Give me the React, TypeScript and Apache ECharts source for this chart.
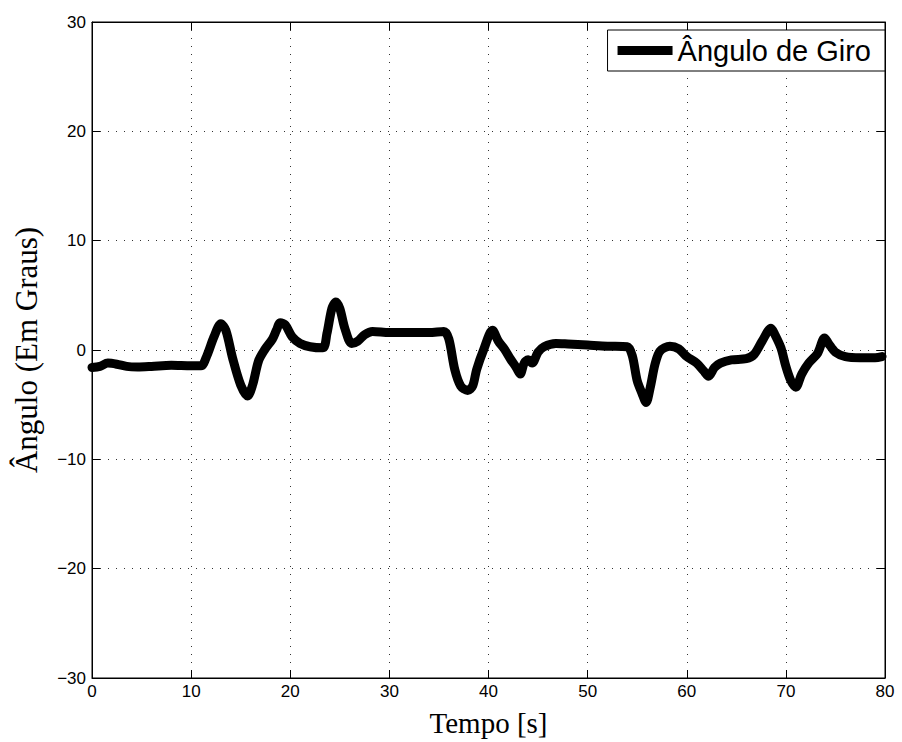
import React, { useEffect, useRef } from "react";
import * as echarts from "echarts";

const seriesName = "Ângulo de Giro";
const xTitle = "Tempo [s]";
const yTitle = "Ângulo (Em Graus)";

const timeValues = [
  0, 0.8, 1.6, 2.5, 3.5, 4.6, 6, 8, 10, 11, 11.6, 12.3, 13, 13.5, 14.2, 15, 15.7, 16.2, 16.8, 17.4,
  18.2, 18.6, 19, 19.5, 20.2, 21, 22, 23.3, 23.7, 24.2, 24.6, 25, 25.5, 26.2, 26.8, 27.5, 28.3, 30,
  32, 34, 35.5, 36, 36.6, 37.2, 37.9, 38.4, 38.8, 39.5, 40.4, 41, 41.6, 42.2, 42.8, 43.2, 43.6, 44,
  44.4, 45, 45.6, 46.8, 48, 50, 52, 54, 54.5, 55, 55.5, 55.9, 56.3, 56.8, 57.3, 58.3, 59.2, 60, 61,
  61.7, 62.2, 62.8, 63.4, 64.5, 66, 66.8, 67.6, 68.5, 68.9, 69.5, 70, 70.5, 71, 71.6, 72.3, 73.2,
  73.9, 74.3, 75, 76, 77.5, 79, 79.7,
];

const angleValues = [
  -1.6, -1.5, -1.2, -1.3, -1.5, -1.55, -1.5, -1.4, -1.45, -1.45, -0.5, 1.2, 2.4, 1.8, -0.8, -3.2,
  -4.2, -3.2, -1.0, 0, 1.0, 1.8, 2.5, 2.3, 1.2, 0.6, 0.3, 0.2, 1.5, 3.8, 4.4, 3.8, 2.0, 0.6, 0.8,
  1.4, 1.7, 1.6, 1.6, 1.6, 1.7, 1.0, -1.8, -3.3, -3.7, -3.3, -1.8, 0, 1.8, 0.8, 0.1, -0.8, -1.6,
  -2.2, -1.2, -0.9, -1.2, -0.2, 0.3, 0.6, 0.55, 0.45, 0.35, 0.3, -0.5, -2.8, -4.0, -4.8, -3.5, -1.3,
  -0.1, 0.35, 0.1, -0.6, -1.2, -1.9, -2.4, -1.6, -1.2, -0.9, -0.8, -0.4, 0.8, 2.0, 1.4, 0.2, -1.5,
  -2.8, -3.4, -2.2, -1.2, -0.3, 1.1, 0.6, -0.2, -0.6, -0.7, -0.7, -0.6,
];

const xMin = 0;
const xMax = 80;
const xStep = 10;
const yMin = -30;
const yMax = 30;
const yStep = 10;

const fmt = (v: number) => String(v).replace("-", "\u2212");

export default function App() {
  const ref = useRef<HTMLDivElement>(null);
  useEffect(() => {
    if (!ref.current) return;
    const chart = echarts.init(ref.current, undefined, { renderer: "svg" });
    const data = timeValues.map((t, i) => [t, angleValues[i]]);
    const tickFont = { fontFamily: "Liberation Sans, Arial, sans-serif", fontSize: 17, color: "#000" };
    const axisCommon = {
      axisLine: { show: true, onZero: false, lineStyle: { color: "#000", width: 1 } },
      axisTick: { show: true, inside: true, length: 8, lineStyle: { color: "#000" } },
    };
    const gridLine = { show: true, lineStyle: { color: "#333", width: 1, type: [1, 7] } };
    chart.setOption({
      animation: false,
      backgroundColor: "#fff",
      grid: { left: 92, right: 17, top: 22, bottom: 64, show: true, borderColor: "#000", borderWidth: 1, backgroundColor: "#fff" },
      legend: {
        data: [seriesName],
        right: 17,
        top: 30,
        icon: "rect",
        itemWidth: 55,
        itemHeight: 9,
        padding: [6, 14, 6, 10],
        borderColor: "#000",
        borderWidth: 1,
        borderRadius: 0,
        backgroundColor: "#fff",
        textStyle: { fontFamily: "Liberation Sans, Arial, sans-serif", fontSize: 29, color: "#000" },
      },
      xAxis: [
        {
          type: "value",
          min: xMin,
          max: xMax,
          interval: xStep,
          position: "bottom",
          name: xTitle,
          nameLocation: "middle",
          nameGap: 30,
          nameTextStyle: { fontFamily: "Liberation Serif, Times New Roman, serif", fontSize: 29, color: "#000" },
          ...axisCommon,
          axisLabel: { ...tickFont, margin: 5, formatter: fmt },
          splitLine: gridLine,
        },
        {
          type: "value",
          min: xMin,
          max: xMax,
          interval: xStep,
          position: "top",
          ...axisCommon,
          axisLabel: { show: false },
          splitLine: { show: false },
        },
      ],
      yAxis: [
        {
          type: "value",
          min: yMin,
          max: yMax,
          interval: yStep,
          position: "left",
          name: yTitle,
          nameLocation: "middle",
          nameGap: 50,
          nameTextStyle: { fontFamily: "Liberation Serif, Times New Roman, serif", fontSize: 31, color: "#000" },
          ...axisCommon,
          axisLabel: { ...tickFont, margin: 6, formatter: fmt },
          splitLine: gridLine,
        },
        {
          type: "value",
          min: yMin,
          max: yMax,
          interval: yStep,
          position: "right",
          ...axisCommon,
          axisLabel: { show: false },
          splitLine: { show: false },
        },
      ],
      series: [
        {
          name: seriesName,
          type: "line",
          data,
          showSymbol: false,
          symbol: "none",
          smooth: 0.3,
          itemStyle: { color: "#000" },
          lineStyle: { color: "#000", width: 9, cap: "round", join: "round" },
        },
      ],
    });
    return () => chart.dispose();
  }, []);
  return <div ref={ref} style={{ position: "fixed", left: 0, top: 0, width: 902, height: 742 }} />;
}
